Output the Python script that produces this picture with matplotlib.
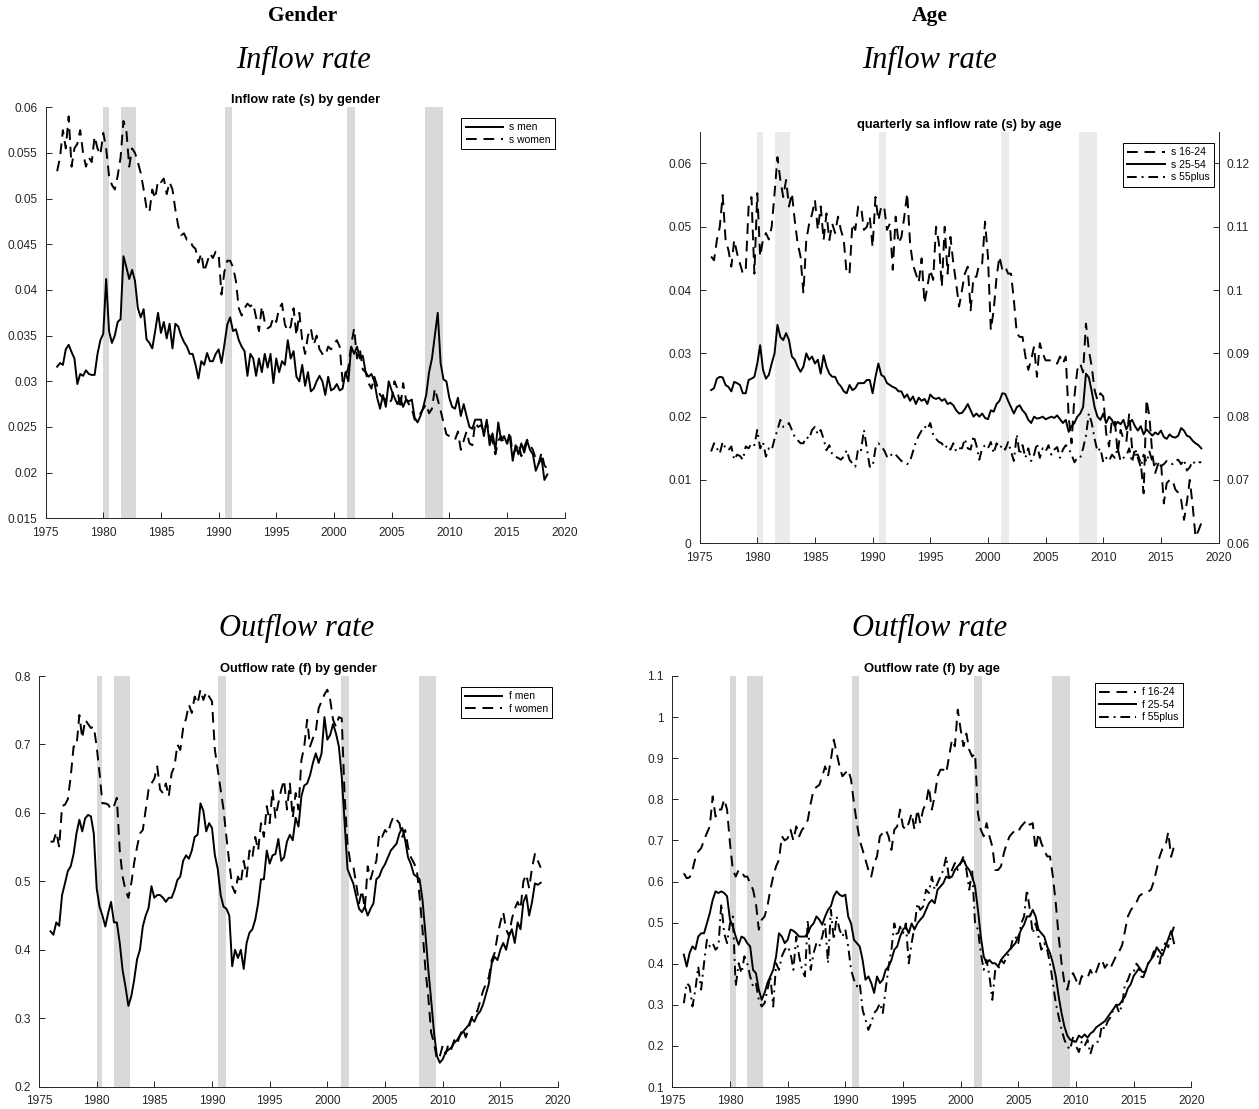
import numpy as np
import matplotlib
matplotlib.use("Agg")
import matplotlib.pyplot as plt
from matplotlib.ticker import FuncFormatter, MultipleLocator

# ---------------- data (quarterly, 1976Q1 .. 2018Q3) ----------------
first_year = 1976.0

s_men = [
    .0316, .0320, .0318, .0335,  .0340, .0332, .0325, .0297,  .0308, .0306, .0312, .0308,
    .0307, .0307, .0330, .0345,  .0352, .0412, .0355, .0342,  .0350, .0365, .0368, .0437,
    .0425, .0412, .0422, .0410,  .0380, .0370, .0379, .0346,  .0342, .0336, .0355, .0375,
    .0353, .0365, .0347, .0363,  .0336, .0363, .0360, .0350,  .0343, .0338, .0330, .0330,
    .0318, .0303, .0322, .0318,  .0331, .0322, .0322, .0330,  .0335, .0320, .0340, .0362,
    .0370, .0355, .0357, .0345,  .0338, .0333, .0306, .0330,  .0325, .0306, .0325, .0310,
    .0330, .0315, .0330, .0298,  .0325, .0310, .0322, .0318,  .0345, .0325, .0333, .0305,
    .0300, .0318, .0295, .0310,  .0289, .0292, .0300, .0306,  .0300, .0285, .0305, .0290,
    .0292, .0297, .0290, .0292,  .0310, .0300, .0338, .0330,  .0338, .0325, .0328, .0310,
    .0305, .0308, .0300, .0282,  .0270, .0285, .0272, .0300,  .0290, .0282, .0275, .0282,
    .0272, .0280, .0278, .0280,  .0260, .0255, .0262, .0272,  .0285, .0310, .0325, .0350,
    .0375, .0320, .0302, .0300,  .0282, .0272, .0270, .0282,  .0262, .0275, .0262, .0250,
    .0248, .0258, .0258, .0258,  .0240, .0258, .0230, .0243,  .0225, .0255, .0235, .0240,
    .0232, .0240, .0213, .0230,  .0220, .0232, .0222, .0235,  .0225, .0220, .0202, .0210,
    .0216, .0192, .0198]

s_women = [
    .0530, .0545, .0575, .0555,  .0590, .0535, .0555, .0560,  .0575, .0550, .0535, .0545,
    .0540, .0568, .0555, .0548,  .0572, .0555, .0525, .0515,  .0510, .0525, .0545, .0585,
    .0575, .0535, .0555, .0550,  .0540, .0528, .0510, .0490,  .0485, .0510, .0500, .0520,
    .0518, .0522, .0505, .0518,  .0510, .0488, .0470, .0460,  .0462, .0455, .0455, .0448,
    .0445, .0430, .0440, .0420,  .0430, .0440, .0435, .0442,  .0440, .0395, .0420, .0432,
    .0432, .0425, .0410, .0380,  .0372, .0380, .0385, .0382,  .0385, .0370, .0355, .0382,
    .0365, .0358, .0360, .0370,  .0365, .0380, .0385, .0362,  .0355, .0360, .0380, .0350,
    .0375, .0345, .0330, .0350,  .0358, .0340, .0350, .0335,  .0330, .0328, .0338, .0335,
    .0340, .0345, .0338, .0300,  .0305, .0315, .0340, .0358,  .0325, .0335, .0313, .0310,
    .0298, .0292, .0305, .0295,  .0285, .0282, .0280, .0275,  .0280, .0300, .0292, .0270,
    .0298, .0280, .0275, .0270,  .0258, .0258, .0265, .0270,  .0275, .0265, .0270, .0292,
    .0280, .0268, .0255, .0242,  .0240, .0238, .0236, .0245,  .0225, .0235, .0245, .0232,
    .0230, .0255, .0250, .0252,  .0245, .0255, .0240, .0235,  .0220, .0235, .0240, .0232,
    .0230, .0245, .0220, .0225,  .0232, .0218, .0228, .0236,  .0230, .0225, .0215, .0210,
    .0222, .0208, .0204]

# 16-24 inflow rate (right axis scale)
s_16_24 = [
    .1053, .1047, .1079, .1100,  .1150, .1080, .1063, .1037,  .1079, .1058, .1042, .1026,
    .1032, .1132, .1147, .1026,  .1153, .1053, .1080, .1090,  .1080, .1100, .1153, .1210,
    .1174, .1147, .1174, .1132,  .1153, .1110, .1074, .1053,  .0995, .1079, .1105, .1120,
    .1142, .1095, .1132, .1079,  .1121, .1079, .1105, .1090,  .1116, .1095, .1079, .1026,
    .1026, .1105, .1095, .1132,  .1132, .1095, .1100, .1116,  .1068, .1147, .1110, .1132,
    .1132, .1095, .1105, .1032,  .1116, .1074, .1084, .1116,  .1153, .1074, .1040, .1026,
    .1012, .1050, .0979, .1005,  .1032, .1016, .1100, .1074,  .1005, .1100, .1026, .1084,
    .1042, .1010, .0974, .1000,  .1026, .1037, .0968, .1021,  .1021, .1042, .1042, .1108,
    .1053, .0937, .0968, .1021,  .1053, .1032, .1037, .1026,  .1026, .0984, .0932, .0926,
    .0926, .0895, .0874, .0890,  .0911, .0863, .0916, .0900,  .0889, .0889, .0889, .0884,
    .0884, .0895, .0884, .0895,  .0800, .0758, .0832, .0874,  .0884, .0870, .0947, .0905,
    .0879, .0842, .0826, .0837,  .0832, .0774, .0753, .0795,  .0795, .0742, .0779, .0765,
    .0760, .0805, .0750, .0740,  .0740, .0727, .0679, .0827,  .0800, .0742, .0711, .0725,
    .0730, .0663, .0695, .0700,  .0700, .0685, .0680, .0669,  .0637, .0665, .0700, .0660,
    .0610, .0620, .0632]

s_25_54 = [
    .0242, .0245, .0260, .0263,  .0262, .0250, .0247, .0240,  .0255, .0253, .0250, .0237,
    .0237, .0258, .0260, .0263,  .0284, .0313, .0274, .0260,  .0266, .0284, .0300, .0345,
    .0326, .0321, .0332, .0321,  .0295, .0290, .0279, .0271,  .0279, .0300, .0290, .0295,
    .0284, .0290, .0268, .0297,  .0279, .0268, .0263, .0263,  .0253, .0248, .0240, .0237,
    .0250, .0242, .0245, .0253,  .0253, .0253, .0258, .0258,  .0237, .0263, .0284, .0266,
    .0263, .0253, .0250, .0247,  .0245, .0240, .0240, .0230,  .0235, .0225, .0232, .0220,
    .0230, .0225, .0228, .0220,  .0235, .0230, .0228, .0230,  .0225, .0228, .0220, .0222,
    .0218, .0210, .0205, .0206,  .0212, .0220, .0210, .0200,  .0205, .0200, .0205, .0198,
    .0196, .0210, .0208, .0220,  .0225, .0237, .0236, .0225,  .0215, .0205, .0215, .0218,
    .0210, .0205, .0195, .0190,  .0200, .0197, .0198, .0200,  .0196, .0198, .0200, .0198,
    .0202, .0196, .0190, .0195,  .0176, .0185, .0190, .0200,  .0205, .0215, .0268, .0262,
    .0240, .0215, .0200, .0195,  .0205, .0190, .0200, .0195,  .0185, .0192, .0188, .0195,
    .0180, .0190, .0195, .0185,  .0178, .0185, .0172, .0180,  .0175, .0170, .0175, .0172,
    .0178, .0168, .0165, .0172,  .0168, .0167, .0170, .0182,  .0178, .0170, .0168, .0162,
    .0158, .0155, .0150]

s_55plus = [
    .0145, .0158, .0150, .0142,  .0160, .0150, .0147, .0153,  .0132, .0140, .0138, .0132,
    .0153, .0150, .0158, .0155,  .0179, .0150, .0160, .0137,  .0150, .0147, .0165, .0179,
    .0195, .0184, .0184, .0190,  .0179, .0168, .0163, .0158,  .0158, .0168, .0165, .0179,
    .0184, .0172, .0179, .0165,  .0147, .0155, .0140, .0137,  .0135, .0132, .0137, .0147,
    .0132, .0126, .0121, .0150,  .0147, .0179, .0150, .0121,  .0121, .0150, .0158, .0153,
    .0147, .0137, .0142, .0137,  .0140, .0135, .0130, .0128,  .0125, .0130, .0145, .0160,
    .0170, .0178, .0185, .0180,  .0190, .0172, .0165, .0160,  .0158, .0150, .0155, .0148,
    .0158, .0145, .0150, .0150,  .0165, .0150, .0148, .0170,  .0155, .0132, .0150, .0155,
    .0150, .0160, .0142, .0158,  .0150, .0155, .0148, .0160,  .0145, .0130, .0172, .0140,
    .0155, .0135, .0150, .0130,  .0140, .0158, .0135, .0150,  .0145, .0155, .0140, .0148,
    .0152, .0135, .0148, .0155,  .0150, .0140, .0128, .0135,  .0135, .0150, .0170, .0205,
    .0190, .0165, .0145, .0150,  .0128, .0135, .0130, .0140,  .0135, .0150, .0130, .0135,
    .0138, .0150, .0128, .0150,  .0135, .0120, .0140, .0128,  .0145, .0130, .0125, .0128,
    .0122, .0125, .0130, .0128,  .0125, .0130, .0132, .0125,  .0132, .0115, .0120, .0130,
    .0125, .0128, .0128]

f_men = [
    .427, .422, .440, .435,  .480, .497, .515, .522,  .540, .570, .590, .573,
    .592, .597, .595, .570,  .490, .463, .450, .434,  .454, .470, .440, .440,
    .410, .370, .346, .318,  .332, .356, .386, .400,  .434, .450, .461, .493,
    .476, .480, .480, .476,  .470, .476, .476, .487,  .502, .507, .530, .538,
    .533, .545, .565, .568,  .614, .603, .573, .585,  .578, .538, .518, .480,
    .463, .460, .450, .376,  .400, .388, .400, .372,  .410, .425, .430, .444,
    .468, .503, .503, .545,  .526, .538, .540, .562,  .530, .535, .558, .568,
    .560, .593, .580, .624,  .640, .643, .655, .673,  .687, .673, .687, .740,
    .707, .714, .730, .716,  .697, .653, .585, .518,  .507, .497, .478, .460,
    .455, .463, .450, .460,  .468, .503, .507, .518,  .525, .535, .545, .550,
    .555, .570, .578, .560,  .535, .525, .510, .507,  .503, .473, .425, .372,
    .327, .279, .245, .235,  .240, .250, .254, .257,  .264, .268, .275, .280,
    .285, .290, .300, .295,  .305, .310, .320, .335,  .350, .380, .390, .385,
    .400, .410, .400, .420,  .430, .410, .440, .430,  .470, .480, .450, .470,
    .497, .495, .498]

f_women = [
    .558, .558, .572, .550,  .610, .612, .620, .653,  .697, .697, .743, .709,
    .736, .730, .724, .726,  .697, .658, .614, .614,  .612, .605, .610, .622,
    .545, .507, .487, .476,  .497, .527, .550, .570,  .575, .605, .634, .643,
    .650, .668, .634, .629,  .643, .624, .658, .668,  .700, .692, .724, .738,
    .758, .746, .770, .760,  .780, .765, .777, .770,  .763, .692, .663, .634,
    .605, .565, .527, .493,  .483, .507, .497, .530,  .507, .545, .535, .565,
    .545, .585, .565, .610,  .585, .634, .593, .614,  .634, .648, .605, .643,
    .593, .629, .605, .677,  .697, .736, .697, .709,  .719, .753, .763, .773,
    .780, .765, .736, .726,  .740, .738, .624, .555,  .527, .522, .497, .468,
    .487, .460, .522, .503,  .518, .530, .570, .565,  .575, .570, .585, .595,
    .590, .585, .565, .575,  .550, .535, .527, .518,  .478, .430, .372, .332,
    .279, .264, .240, .244,  .260, .248, .262, .255,  .268, .262, .275, .285,
    .272, .285, .300, .310,  .310, .325, .340, .350,  .360, .385, .395, .420,
    .440, .455, .430, .420,  .445, .460, .470, .460,  .500, .510, .490, .520,
    .540, .530, .520]

f_16_24 = [
    .620, .608, .610, .628,  .657, .673, .681, .700,  .718, .734, .807, .758,
    .775, .775, .800, .775,  .693, .628, .612, .628,  .625, .612, .612, .596,
    .580, .547, .483, .507,  .515, .540, .580, .612,  .637, .653, .710, .700,
    .705, .726, .700, .734,  .710, .726, .734, .750,  .790, .823, .830, .835,
    .856, .880, .856, .896,  .945, .912, .880, .856,  .864, .872, .848, .790,
    .742, .700, .677, .653,  .628, .612, .645, .661,  .710, .718, .726, .710,
    .677, .726, .734, .775,  .734, .726, .742, .766,  .726, .775, .742, .775,
    .790, .830, .775, .807,  .856, .872, .872, .864,  .904, .945, .929, 1.018,
    .970, .929, .960, .920,  .904, .912, .766, .726,  .710, .742, .710, .685,
    .628, .628, .637, .669,  .693, .710, .718, .726,  .722, .734, .742, .750,
    .738, .742, .677, .718,  .693, .677, .661, .661,  .612, .547, .466, .401,
    .353, .337, .369, .377,  .361, .345, .370, .365,  .365, .385, .370, .380,
    .400, .410, .390, .400,  .390, .405, .420, .430,  .445, .480, .515, .530,
    .540, .550, .565, .570,  .575, .575, .580, .600,  .630, .660, .680, .685,
    .720, .660, .685]

f_25_54 = [
    .422, .393, .426, .442,  .435, .466, .474, .474,  .498, .523, .555, .576,
    .572, .576, .572, .564,  .507, .490, .466, .446,  .466, .462, .450, .442,
    .385, .377, .337, .312,  .329, .353, .369, .385,  .418, .474, .466, .450,
    .458, .483, .480, .474,  .466, .466, .466, .474,  .490, .498, .515, .507,
    .495, .515, .531, .540,  .564, .576, .568, .564,  .568, .515, .498, .458,
    .450, .442, .409, .361,  .369, .353, .329, .369,  .353, .361, .385, .393,
    .409, .434, .442, .466,  .483, .490, .474, .498,  .483, .498, .507, .515,
    .531, .547, .555, .547,  .580, .588, .596, .612,  .608, .612, .628, .637,
    .645, .653, .637, .628,  .612, .588, .531, .466,  .418, .401, .409, .401,
    .401, .393, .409, .418,  .426, .434, .442, .450,  .466, .483, .495, .515,
    .515, .531, .515, .483,  .474, .466, .442, .426,  .401, .369, .320, .280,
    .247, .225, .215, .212,  .210, .225, .220, .228,  .220, .230, .235, .245,
    .250, .255, .260, .270,  .280, .290, .300, .300,  .310, .320, .340, .350,
    .370, .380, .390, .380,  .380, .400, .410, .420,  .440, .430, .420, .440,
    .460, .480, .450]

f_55plus = [
    .304, .353, .345, .296,  .337, .393, .337, .401,  .458, .442, .450, .434,
    .442, .547, .474, .450,  .498, .515, .345, .401,  .377, .418, .401, .369,
    .345, .353, .312, .296,  .304, .337, .369, .296,  .401, .385, .418, .434,
    .442, .426, .385, .466,  .418, .385, .369, .507,  .385, .426, .450, .442,
    .466, .498, .401, .531,  .458, .515, .483, .466,  .483, .442, .385, .361,
    .345, .353, .288, .264,  .239, .256, .280, .288,  .304, .280, .337, .393,
    .434, .498, .466, .490,  .474, .498, .401, .450,  .490, .547, .531, .539,
    .580, .572, .612, .580,  .596, .612, .628, .661,  .604, .628, .645, .628,
    .645, .661, .628, .580,  .628, .498, .483, .426,  .385, .409, .369, .312,
    .385, .385, .409, .401,  .418, .426, .458, .466,  .450, .498, .515, .580,
    .531, .474, .498, .466,  .434, .450, .434, .401,  .353, .304, .272, .239,
    .215, .199, .191, .223,  .200, .185, .210, .200,  .215, .180, .205, .210,
    .210, .250, .240, .260,  .270, .290, .300, .280,  .300, .350, .360, .380,
    .380, .400, .390, .360,  .380, .400, .410, .430,  .430, .400, .440, .450,
    .440, .470, .490]

# NBER recessions (decimal years)
rec_start = [1980.00, 1981.50, 1990.55, 2001.17, 2007.92]
rec_end = [1980.50, 1982.85, 1991.20, 2001.85, 2009.45]

x_ticks = [1975, 1980, 1985, 1990, 1995, 2000, 2005, 2010, 2015, 2020]

# ---------------- styling ----------------
W, H = 1259, 1109
fig = plt.figure(figsize=(W / 100, H / 100), dpi=100)
SANS = ["Liberation Sans", "DejaVu Sans"]
SERIF = ["Liberation Serif", "DejaVu Serif"]
AXC = "#262626"
LW = 1.4
DASH = [5.5, 3.5]
DASHDOT = [5.0, 2.5, 1.0, 2.5]
TICKSIZE = 8.6


def quarters(series):
    return first_year + 0.25 * np.arange(len(series))


def px_axes(left, top, right, bottom):
    return fig.add_axes([left / W, 1 - bottom / H, (right - left) / W, (bottom - top) / H])


fmt = FuncFormatter(lambda v, p: "%g" % round(v, 6))


def style(ax, ylim, ystep, right_spine=False, shade="#d9d9d9"):
    ax.set_xlim(1975, 2020)
    ax.set_ylim(*ylim)
    ax.set_xticks(x_ticks)
    ax.yaxis.set_major_locator(MultipleLocator(ystep))
    ax.yaxis.set_major_formatter(fmt)
    for s in ["top", "right"]:
        ax.spines[s].set_visible(False)
    if right_spine:
        ax.spines["right"].set_visible(True)
    for s in ax.spines.values():
        s.set_color(AXC)
        s.set_linewidth(0.7)
    ax.tick_params(direction="in", length=4, width=0.7, colors=AXC,
                   labelsize=TICKSIZE, top=False, right=False)
    ax.tick_params(axis="y", pad=6)
    ax.tick_params(axis="x", pad=6)
    for lab in ax.get_xticklabels() + ax.get_yticklabels():
        lab.set_family(SANS)
    for a, b in zip(rec_start, rec_end):
        ax.axvspan(a, b, color=shade, lw=0, zorder=0)


def legend(ax, handles, labels, dx, dy, wpx, hpx):
    leg = ax.legend(handles, labels, loc="upper right",
                    bbox_to_anchor=(1 - dx / wpx, 1 - dy / hpx),
                    borderaxespad=0, frameon=True, fancybox=False,
                    edgecolor="black", framealpha=1,
                    handlelength=3.6, handletextpad=0.6, labelspacing=0.25,
                    borderpad=0.4, prop={"family": SANS, "size": 7.5})
    leg.get_frame().set_linewidth(0.7)
    return leg


def title(ax, text):
    ax.set_title(text, fontsize=9.3, fontweight="bold", family=SANS, pad=3, color="black")


# ---------------- headings ----------------
def head(xc, yc, text, **kw):
    fig.text(xc / W, 1 - yc / H, text, ha="center", va="center", family=SERIF, **kw)


head(303, 16, "Gender", fontsize=15.5, fontweight="bold")
head(930, 16, "Age", fontsize=15.5, fontweight="bold")
head(304, 60, "Inflow rate", fontsize=22, style="italic")
head(930, 60, "Inflow rate", fontsize=22, style="italic")
head(297, 628, "Outflow rate", fontsize=22, style="italic")
head(930, 628, "Outflow rate", fontsize=22, style="italic")

# ---------------- top-left: inflow by gender ----------------
ax1 = px_axes(45.6, 107.3, 564.6, 518.3)
style(ax1, (0.015, 0.06), 0.005)
h1, = ax1.plot(quarters(s_men), s_men, color="black", lw=LW)
h2, = ax1.plot(quarters(s_women), s_women, color="black", lw=LW, dashes=DASH)
title(ax1, "Inflow rate (s) by gender")
legend(ax1, [h1, h2], ["s men", "s women"], 9.6, 10.7, 519, 411)

# ---------------- top-right: inflow by age ----------------
ax2 = px_axes(699.6, 131.8, 1218.6, 543.3)
style(ax2, (0, 0.065), 0.01, right_spine=True, shade="#ebebeb")
ax2r = ax2.twinx()
ax2r.set_ylim(0.06, 0.125)
ax2r.yaxis.set_major_locator(MultipleLocator(0.01))
ax2r.yaxis.set_major_formatter(fmt)
for s in ["top", "left", "bottom"]:
    ax2r.spines[s].set_visible(False)
ax2r.spines["right"].set_color(AXC)
ax2r.spines["right"].set_linewidth(0.7)
ax2r.tick_params(direction="in", length=4, width=0.7, colors=AXC, labelsize=TICKSIZE, pad=6)
for lab in ax2r.get_yticklabels():
    lab.set_family(SANS)
g2, = ax2.plot(quarters(s_25_54), s_25_54, color="black", lw=LW)
g3, = ax2.plot(quarters(s_55plus), s_55plus, color="black", lw=LW, dashes=DASHDOT)
g1, = ax2r.plot(quarters(s_16_24), s_16_24, color="black", lw=LW, dashes=DASH)
title(ax2r, "quarterly sa inflow rate (s) by age")
legend(ax2r, [g1, g2, g3], ["s 16-24", "s 25-54", "s 55plus"], 4.6, 11.2, 519, 411.5)

# ---------------- bottom-left: outflow by gender ----------------
ax3 = px_axes(39, 676, 558, 1086.7)
style(ax3, (0.2, 0.8), 0.1)
k1, = ax3.plot(quarters(f_men), f_men, color="black", lw=LW)
k2, = ax3.plot(quarters(f_women), f_women, color="black", lw=LW, dashes=DASH)
title(ax3, "Outflow rate (f) by gender")
legend(ax3, [k1, k2], ["f men", "f women"], 6, 11, 519, 410.7)

# ---------------- bottom-right: outflow by age ----------------
ax4 = px_axes(672.3, 676, 1191.3, 1087)
style(ax4, (0.1, 1.1), 0.1)
m1, = ax4.plot(quarters(f_16_24), f_16_24, color="black", lw=LW, dashes=DASH)
m2, = ax4.plot(quarters(f_25_54), f_25_54, color="black", lw=LW)
m3, = ax4.plot(quarters(f_55plus), f_55plus, color="black", lw=LW, dashes=DASHDOT)
title(ax4, "Outflow rate (f) by age")
legend(ax4, [m1, m2, m3], ["f 16-24", "f 25-54", "f 55plus"], 8.3, 7, 519, 411)

fig.savefig("out.png", dpi=100)
